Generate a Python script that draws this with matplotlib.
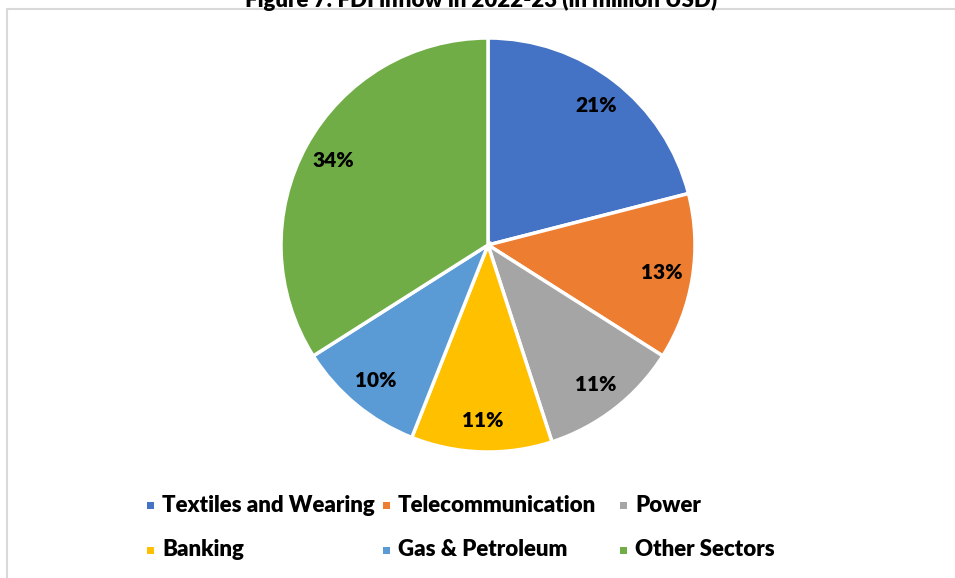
import matplotlib.pyplot as plt
from matplotlib.patches import Rectangle

sectors = ["Textiles and Wearing", "Telecommunication", "Power",
           "Banking", "Gas & Petroleum", "Other Sectors"]
shares = [21, 13, 11, 11, 10, 34]
colors = ["#4472C4", "#ED7D31", "#A5A5A5", "#FFC000", "#5B9BD5", "#70AD47"]
title = "Figure 7: FDI inflow in 2022-23 (in million USD)"

plt.rcParams["font.family"] = ["Lato", "DejaVu Sans"]

W, H = 955, 578
fig = plt.figure(figsize=(W / 100, H / 100), dpi=100)

# chart area border (light grey, runs off the right and bottom edges)
fig.patches.append(Rectangle((7 / W, -0.1), 1.2, 1.1 - 9 / H, transform=fig.transFigure,
                             fill=False, edgecolor="#d9d9d9", linewidth=1.5))

# title sits just above the border and is partly cut off at the top
fig.text(481 / W, 1 - 7 / H, title, ha="center", va="baseline",
         fontsize=16, fontweight="heavy", color="#000000")

# pie, centre (488, 245) px, radius 207 px
cx, cy, r = 488, 245, 207
ax = fig.add_axes([(cx - r) / W, (H - cy - r) / H, 2 * r / W, 2 * r / H])
wedges, texts, autotexts = ax.pie(
    shares, colors=colors, startangle=90, counterclock=False, radius=1,
    autopct="%d%%", pctdistance=0.85,
    wedgeprops=dict(edgecolor="white", linewidth=2.5),
    textprops=dict(fontsize=15, fontweight="heavy", color="#000000"))
ax.set_xlim(-1, 1)
ax.set_ylim(-1, 1)
ax.set_aspect("equal")
ax.axis("off")

# legend: 3 columns x 2 rows
col_x = [147, 383, 620]
row_y = [505, 550]
for i, (name, c) in enumerate(zip(sectors, colors)):
    x = col_x[i % 3]
    y = row_y[i // 3]
    fig.patches.append(Rectangle((x / W, (H - y - 4) / H), 7 / W, 7 / H,
                                 transform=fig.transFigure, facecolor=c, edgecolor="none"))
    fig.text((x + 15) / W, (H - y) / H, name, ha="left", va="center",
             fontsize=16, fontweight="heavy", color="#000000")

fig.savefig("out.png", dpi=100)
